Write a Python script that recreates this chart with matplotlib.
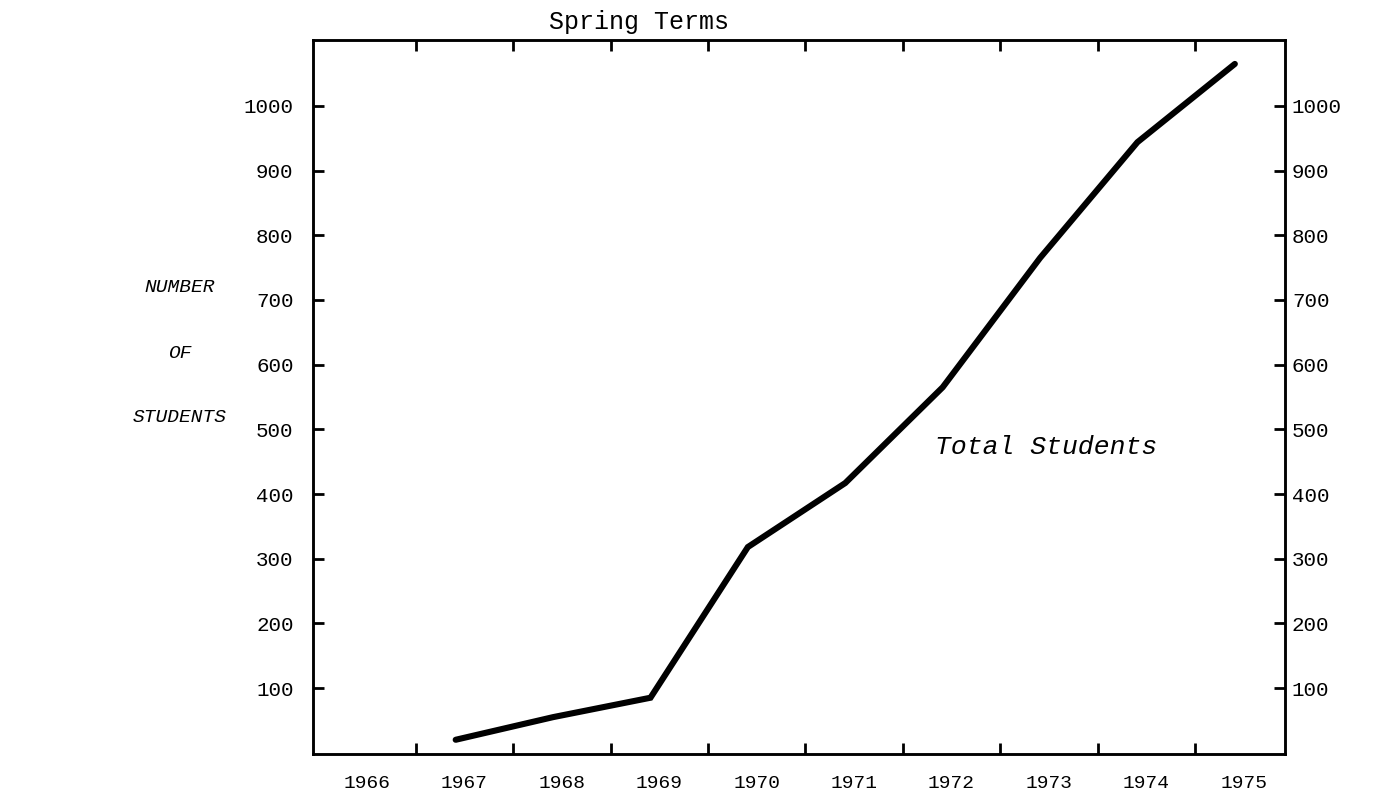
import matplotlib
matplotlib.use("Agg")
import matplotlib.pyplot as plt
import numpy as np

years = [1967, 1968, 1969, 1970, 1971, 1972, 1973, 1974, 1975]
students = [20, 55, 85, 318, 417, 565, 765, 944, 1065]
year_labels = [1966, 1967, 1968, 1969, 1970, 1971, 1972, 1973, 1974, 1975]
y_ticks = [100, 200, 300, 400, 500, 600, 700, 800, 900, 1000]

FONT = "Liberation Mono"
plt.rcParams['font.family'] = [FONT, 'DejaVu Sans Mono']

fig = plt.figure(figsize=(13.85, 7.92), dpi=100)
ax = fig.add_axes([313/1385, 38/792, (1285-313)/1385, (754-40)/792])

spring_offset = -0.09
ax.plot(np.array(years) + spring_offset, students, color='black', lw=4.4,
        solid_capstyle='round', solid_joinstyle='miter')

ax.set_xlim(1965.445, 1975.425)
ax.set_ylim(-2, 1102)

# boundary ticks between years (no labels)
ax.set_xticks(np.array(year_labels[:-1]) + 0.5)
ax.set_xticklabels([])
ax.tick_params(axis='x', which='major', direction='in', length=8, width=2,
               top=True, bottom=True)
# year labels centred in each interval
ax.set_xticks(year_labels, minor=True)
ax.set_xticklabels([str(y) for y in year_labels], minor=True, fontsize=14)
ax.tick_params(axis='x', which='minor', length=0, pad=15)

ax.set_yticks(y_ticks)
ax.set_yticklabels([str(v) for v in y_ticks], fontsize=15)
ax.tick_params(axis='y', direction='in', length=8, width=2, left=True, right=False,
               labelleft=True, labelright=False, pad=14)

ax2 = ax.twinx()
ax2.set_ylim(ax.get_ylim())
ax2.set_yticks(y_ticks)
ax2.set_yticklabels([str(v) for v in y_ticks], fontsize=15)
ax2.tick_params(axis='y', direction='in', length=8, width=2, pad=5)

for a in (ax, ax2):
    for s in a.spines.values():
        s.set_linewidth(1.8)

fig.text(639/1385, 1 - 22/792, "Spring Terms", ha='center', va='center', fontsize=18)

for txt, yy in [("NUMBER", 287), ("OF", 353), ("STUDENTS", 418)]:
    fig.text(180/1385, 1 - yy/792, txt, ha='center', va='center', fontsize=14,
             style='italic')

ax.text(1971.83, 473, "Total Students", ha='left', va='center', fontsize=19,
        style='italic')

fig.savefig("out.png", dpi=100)
